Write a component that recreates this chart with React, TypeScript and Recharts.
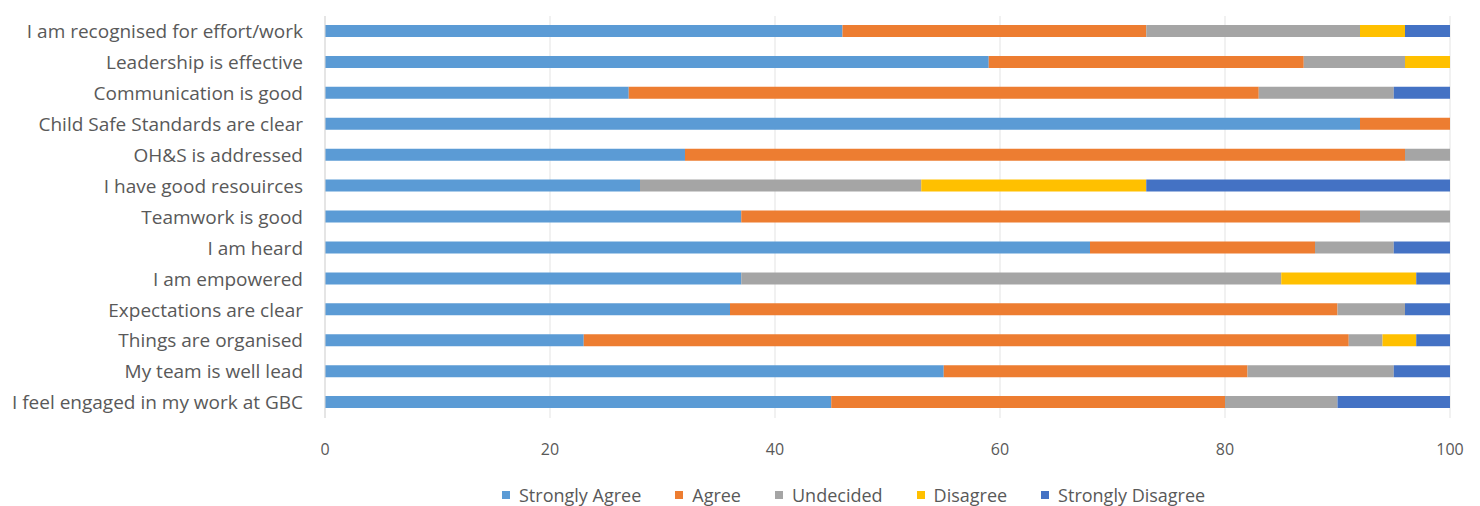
// Staff survey: share of responses per statement, stacked horizontally (0-100%).

import { BarChart, Bar, XAxis, YAxis, CartesianGrid, Legend } from "recharts";

const statements = [
    "I am recognised for effort/work",
    "Leadership is effective",
    "Communication is good",
    "Child Safe Standards are clear",
    "OH&S is addressed",
    "I have good resouirces",
    "Teamwork is good",
    "I am heard",
    "I am empowered",
    "Expectations are clear",
    "Things are organised",
    "My team is well lead",
    "I feel engaged in my work at GBC",
];

const stronglyAgree = [46, 59, 27, 92, 32, 28, 37, 68, 37, 36, 23, 55, 45];
const agree = [27, 28, 56, 8, 64, 0, 55, 20, 0, 54, 68, 27, 35];
const undecided = [19, 9, 12, 0, 4, 25, 8, 7, 48, 6, 3, 13, 10];
const disagree = [4, 4, 0, 0, 0, 20, 0, 0, 12, 0, 3, 0, 0];
const stronglyDisagree = [4, 0, 5, 0, 0, 27, 0, 5, 3, 4, 3, 5, 10];

const xTicks = [0, 20, 40, 60, 80, 100];

const series = [
    { key: "sa", name: "Strongly Agree", color: "#5B9BD5" },
    { key: "a", name: "Agree", color: "#ED7D31" },
    { key: "u", name: "Undecided", color: "#A5A5A5" },
    { key: "d", name: "Disagree", color: "#FFC000" },
    { key: "sd", name: "Strongly Disagree", color: "#4472C4" },
];

const data = statements.map((s, i) => ({
    label: s,
    sa: stronglyAgree[i],
    a: agree[i],
    u: undecided[i],
    d: disagree[i],
    sd: stronglyDisagree[i],
}));

const FONT = "'Open Sans', sans-serif";
const TEXT = "#595959";

function SurveyLegend() {
    return (
        <div style={{ display: "flex", gap: 34, fontFamily: FONT, fontSize: 18, color: TEXT, lineHeight: "22px" }}>
            {series.map((s) => (
                <div key={s.key} style={{ display: "flex", alignItems: "center" }}>
                    <span style={{ width: 8, height: 8, background: s.color, marginRight: 9, display: "inline-block" }} />
                    {s.name}
                </div>
            ))}
        </div>
    );
}

export default function App() {
    return (
        <div style={{ position: "absolute", left: 0, top: 0, width: 1480, height: 506, background: "#fff" }}>
            <BarChart
                width={1480}
                height={506}
                data={data}
                layout="vertical"
                margin={{ top: 16, right: 30, left: 0, bottom: 0 }}
                barSize={12}
            >
                <CartesianGrid horizontal={false} stroke="#E3E3E3" />
                <XAxis
                    type="number"
                    domain={[0, 100]}
                    ticks={xTicks}
                    axisLine={false}
                    tickLine={false}
                    tickMargin={20}
                    height={66}
                    tick={{ fontSize: 16, fill: TEXT, fontFamily: FONT }}
                />
                <YAxis
                    type="category"
                    dataKey="label"
                    width={325}
                    axisLine={{ stroke: "#D9D9D9" }}
                    tickLine={false}
                    tickMargin={16}
                    interval={0}
                    tick={{ fontSize: 19, fill: TEXT, fontFamily: FONT }}
                />
                <Legend
                    verticalAlign="bottom"
                    content={() => <SurveyLegend />}
                    wrapperStyle={{ left: 502, bottom: 0, width: 840, height: 22 }}
                />
                {series.map((s) => (
                    <Bar key={s.key} dataKey={s.key} name={s.name} stackId="all" fill={s.color} isAnimationActive={false} />
                ))}
            </BarChart>
        </div>
    );
}
